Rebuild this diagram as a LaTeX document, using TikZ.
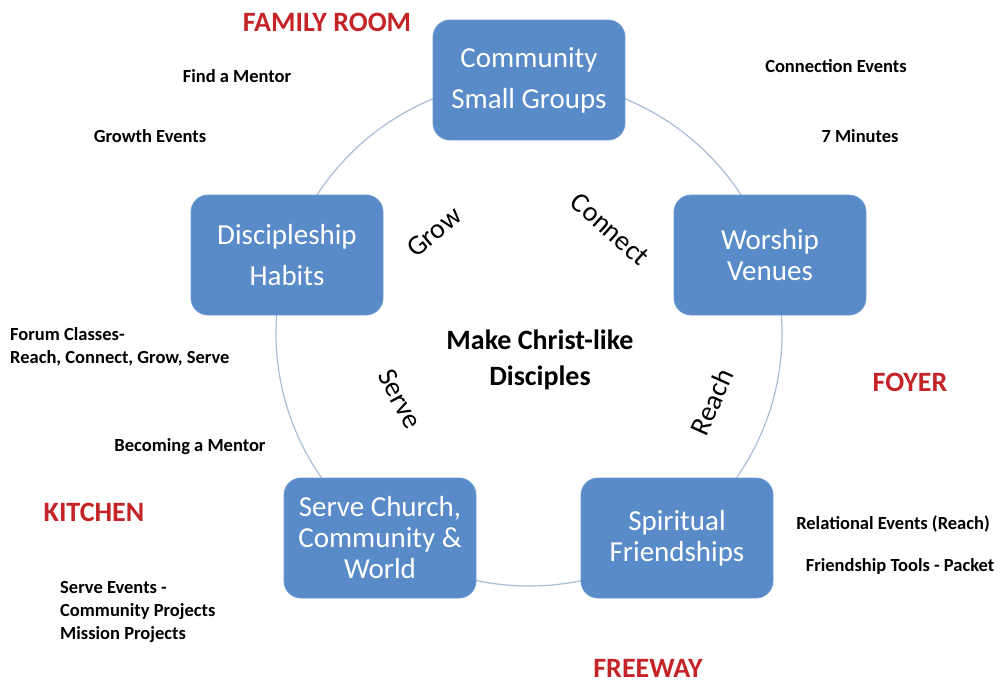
\documentclass[tikz,border=0pt]{standalone}
\usepackage{fontspec}
\setmainfont{Carlito}
\definecolor{boxblue}{RGB}{88,139,200}
\definecolor{boxedge}{RGB}{110,155,210}
\definecolor{ringcol}{RGB}{170,188,214}
\definecolor{roomred}{RGB}{196,36,40}
\tikzset{
  stage/.style={draw=boxedge, line width=0.8pt, fill=boxblue, rounded corners=17pt,
    minimum width=192pt, minimum height=120pt, text=white, align=center,
    font=\fontsize{29}{41}\selectfont, inner sep=0pt},
  tightstage/.style={stage, font=\fontsize{29}{31}\selectfont},
  verb/.style={font=\fontsize{28}{32}\selectfont, text=black, inner sep=0pt},
  room/.style={font=\bfseries\fontsize{28}{32}\selectfont, text=roomred, inner sep=0pt},
  note/.style={font=\bfseries\fontsize{18.5}{23}\selectfont, text=black, inner sep=0pt},
  goal/.style={font=\bfseries\fontsize{28}{36}\selectfont, text=black, align=center, inner sep=0pt},
  ring/.style={draw=ringcol, line width=1.2pt}
}
\begin{document}
\begin{tikzpicture}[x=1pt,y=-1pt]
\useasboundingbox (0,0) rectangle (1003,683);
\coordinate (c) at (529,333);
\draw[ring] (c) circle[radius=253pt];
% stages
\node[stage] (csg) at (529,80) {Community\\Small Groups};
\node[stage] (dh) at (287,255) {Discipleship\\Habits};
\node[tightstage] (wv) at (770,255) {Worship\\Venues};
\node[tightstage] (scw) at (380,538) {Serve Church,\\Community \&\\World};
\node[tightstage] (sf) at (677,538) {Spiritual\\Friendships};
% verbs
\node[verb, rotate=40] (grow) at (434,232) {Grow};
\node[verb, rotate=-42] (connect) at (610,229) {Connect};
\node[verb, rotate=-62] (serve) at (400,399) {Serve};
\node[verb, rotate=66] (reach) at (712,402) {Reach};
% goal
\node[goal] (goalnode) at (540,360) {Make Christ-like\\Disciples};
% rooms
\node[room] (family) at (327,22) {FAMILY ROOM};
\node[room] (foyer) at (910,382) {FOYER};
\node[room] (kitchen) at (94,512) {KITCHEN};
\node[room] (freeway) at (648,668) {FREEWAY};
% notes
\node[note] (mentor) at (237,76) {Find a Mentor};
\node[note] (growth) at (150,136) {Growth Events};
\node[note] (connev) at (836,66) {Connection Events};
\node[note] (seven) at (860,136) {7 Minutes};
\node[note, align=left, anchor=west] (forum) at (10,347) {Forum Classes-\\Reach, Connect, Grow, Serve};
\node[note] (becoming) at (190,447) {Becoming a Mentor};
\node[note] (relational) at (893,524) {Relational Events (Reach)};
\node[note] (tools) at (900,566) {Friendship Tools - Packet};
\node[note, align=left, anchor=west] (serveev) at (60,612) {Serve Events -\\Community Projects\\Mission Projects};
\end{tikzpicture}
\end{document}
